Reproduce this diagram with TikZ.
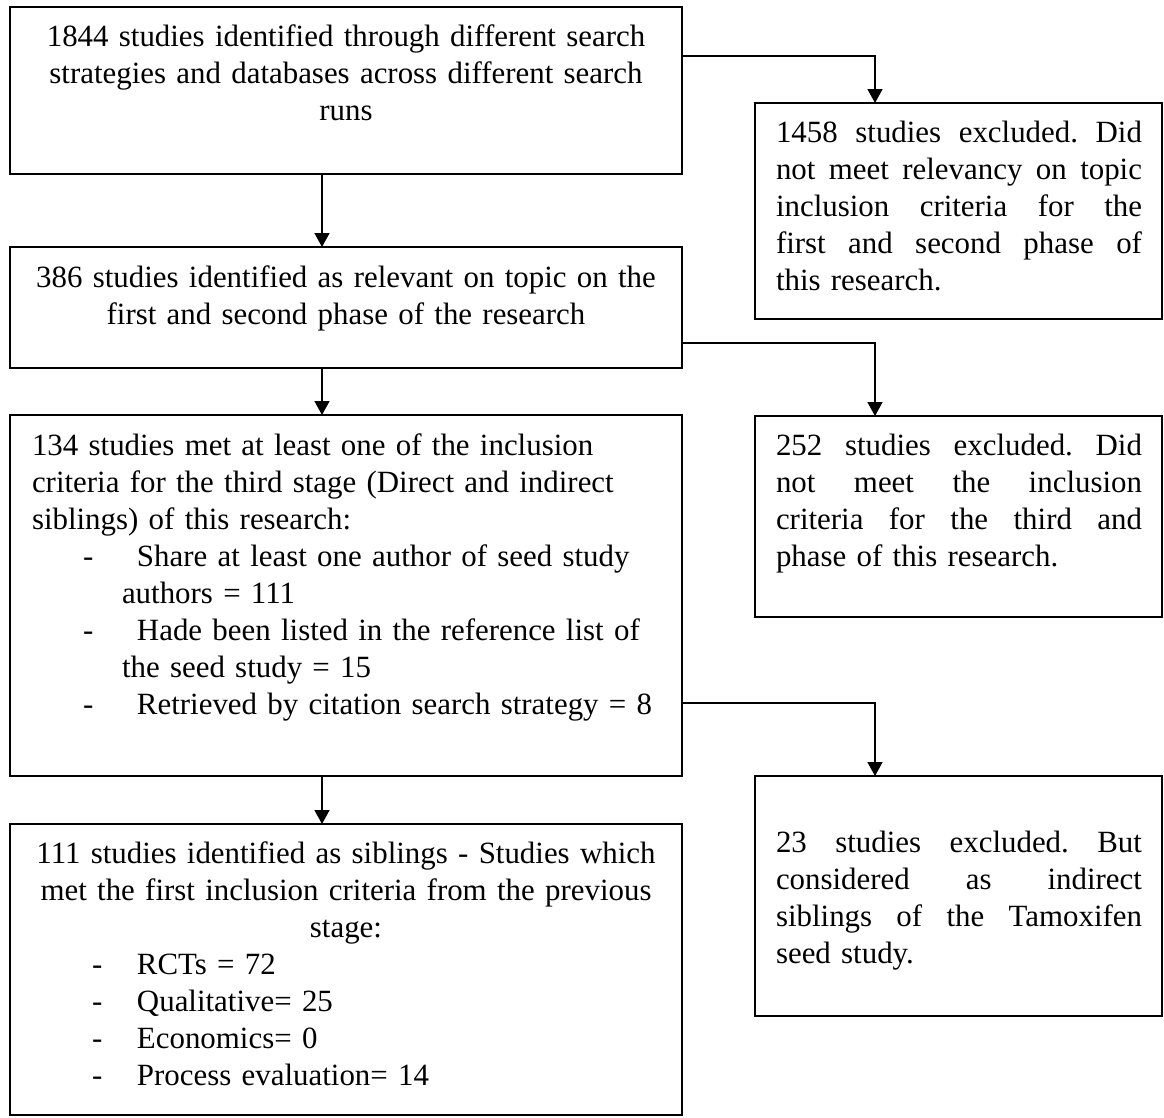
\documentclass[tikz,border=0pt]{standalone}
\usepackage{fontspec}
\setmainfont{Liberation Serif}
\usetikzlibrary{arrows.meta}
% a line spread over the full width of a justified box (words joined by \hfill)
\newcommand\jline[1]{\leavevmode\hbox to 366pt{#1}}
% a dashed list entry: indent, dash, then the entry text
\newcommand\dashitem[3]{\hspace*{#1}\makebox[#2][l]{-}#3}
\begin{document}
\frenchspacing
\parindent=0pt
\begin{tikzpicture}[x=1pt,y=-1pt,
  box/.style={draw, line width=2pt, rectangle, inner sep=0pt, outer sep=0pt,
    anchor=north west},
  txt/.style={inner sep=0pt, outer sep=0pt, font=\fontsize{30.9}{37}\selectfont},
  link/.style={line width=1.6pt, -{Triangle[length=14pt,width=15pt]}}]
\useasboundingbox (0,0) rectangle (1164,1117);

% boxes
\node[box, minimum width=672pt, minimum height=167pt] (b1) at (10,7) {};
\node[box, minimum width=407pt, minimum height=216pt] (b2) at (755,103) {};
\node[box, minimum width=672pt, minimum height=121pt] (b3) at (10,247) {};
\node[box, minimum width=407pt, minimum height=201pt] (b4) at (755,416) {};
\node[box, minimum width=672pt, minimum height=361pt] (b5) at (10,415) {};
\node[box, minimum width=407pt, minimum height=240pt] (b6) at (755,776) {};
\node[box, minimum width=672pt, minimum height=291pt] (b7) at (10,824) {};

% texts
\node[txt, anchor=north, text width=672pt, align=center] (t1)
  at ([yshift=-13.1pt]b1.north)
  {\strut 1844 studies identified through different search\\
   strategies and databases across different search\\
   runs};

\node[txt, anchor=north west, text width=366pt, align=left] (t2)
  at ([xshift=21pt,yshift=-13.1pt]b2.north west)
  {\strut\jline{1458\hfill studies\hfill excluded.\hfill Did}\\
   \jline{not\hfill meet\hfill relevancy\hfill on\hfill topic}\\
   \jline{inclusion\hfill criteria\hfill for\hfill the}\\
   \jline{first\hfill and\hfill second\hfill phase\hfill of}\\
   this research.};

\node[txt, anchor=north, text width=672pt, align=center] (t3)
  at ([yshift=-14.1pt]b3.north)
  {\strut 386 studies identified as relevant on topic on the\\
   first and second phase of the research};

\node[txt, anchor=north west, text width=366pt, align=left] (t4)
  at ([xshift=21pt,yshift=-13.1pt]b4.north west)
  {\strut\jline{252\hfill studies\hfill excluded.\hfill Did}\\
   \jline{not\hfill meet\hfill the\hfill inclusion}\\
   \jline{criteria\hfill for\hfill the\hfill third\hfill and}\\
   phase of this research.};

\node[txt, anchor=north west, text width=650pt, align=left] (t5)
  at ([xshift=22pt,yshift=-14.1pt]b5.north west)
  {\strut 134 studies met at least one of the inclusion\\
   criteria for the third stage (Direct and indirect\\
   siblings) of this research:\\
   \dashitem{51pt}{54pt}{Share at least one author of seed study}\\
   \hspace*{90pt}authors = 111\\
   \dashitem{51pt}{54pt}{Hade been listed in the reference list of}\\
   \hspace*{90pt}the seed study = 15\\
   \dashitem{51pt}{54pt}{Retrieved by citation search strategy = 8}};

\node[txt, anchor=north west, text width=366pt, align=left] (t6)
  at ([xshift=21pt,yshift=-50.1pt]b6.north west)
  {\strut\jline{23\hfill studies\hfill excluded.\hfill But}\\
   \jline{considered\hfill as\hfill indirect}\\
   \jline{siblings\hfill of\hfill the\hfill Tamoxifen}\\
   seed study.};

\node[txt, anchor=north, text width=672pt, align=center] (t7)
  at ([yshift=-13.1pt]b7.north)
  {\strut\mbox{111 studies identified as siblings - Studies which}\\
   \mbox{met the first inclusion criteria from the previous}\\
   stage:\\
   \makebox[672pt][l]{\dashitem{82pt}{45pt}{RCTs = 72}}\\
   \makebox[672pt][l]{\dashitem{82pt}{45pt}{Qualitative= 25}}\\
   \makebox[672pt][l]{\dashitem{82pt}{45pt}{Economics= 0}}\\
   \makebox[672pt][l]{\dashitem{82pt}{45pt}{Process evaluation= 14}}};

% connectors
\draw[link] ([xshift=-24pt]b1.south) -- ([xshift=-24pt]b3.north);
\draw[link] ([xshift=-24pt]b3.south) -- ([xshift=-24pt]b5.north);
\draw[link] ([xshift=-24pt]b5.south) -- ([xshift=-24pt]b7.north);
\draw[link] ([yshift=-49pt]b1.north east) -| ([xshift=-83.5pt]b2.north);
\draw[link] ([yshift=25pt]b3.south east) -| ([xshift=-83.5pt]b4.north);
\draw[link] ([yshift=73pt]b5.south east) -| ([xshift=-83.5pt]b6.north);
\end{tikzpicture}
\end{document}
